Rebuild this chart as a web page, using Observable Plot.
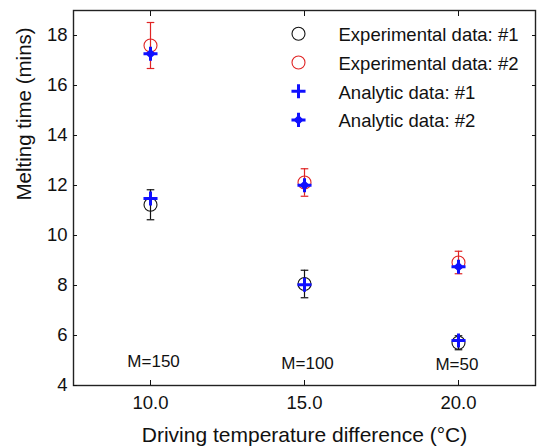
<!DOCTYPE html>
<html>
<head>
<meta charset="utf-8">
<script src="https://cdn.jsdelivr.net/npm/d3@7"></script>
<script src="https://cdn.jsdelivr.net/npm/@observablehq/plot@0.6"></script>
<style>
  body { margin: 0; background: #fff; }
  svg { font-family: "Liberation Sans", Arial, Helvetica, sans-serif; }
</style>
</head>
<body>
<div id="chart"></div>
<script>
// ---- data ----
const temps = [10, 15, 20];
const exp1 = [11.23, 8.06, 5.71];
const exp1Err = [0.6, 0.55, 0.28];
const exp2 = [17.6, 12.12, 8.92];
const exp2Err = [0.92, 0.55, 0.45];
const ana1 = [11.48, 8.03, 5.8];
const ana2 = [17.27, 12.01, 8.75];
const massLabels = ["M=150", "M=100", "M=50"];
const massX = [10.1, 15.1, 19.95];
const massY = [4.97, 4.89, 4.84];
const xTicks = [10, 15, 20];
const yTicks = [4, 6, 8, 10, 12, 14, 16, 18];
const legendLabels = ["Experimental data: #1", "Experimental data: #2", "Analytic data: #1", "Analytic data: #2"];

// ---- styles ----
const RED = "#e02424";
const BLUE = "#1010ff";
const PLUS_R = 4.6;
const capSymbol = { draw(ctx, size) { const r = Math.sqrt(size / Math.PI); ctx.moveTo(-r, 0); ctx.lineTo(r, 0); } };

const rows = temps.map((t, i) => ({
  t, e1: exp1[i], e1err: exp1Err[i], e2: exp2[i], e2err: exp2Err[i], a1: ana1[i], a2: ana2[i]
}));
const ann = massLabels.map((m, i) => ({ m, x: massX[i], y: massY[i] }));

function errMarks(key, errKey, color) {
  return [
    Plot.ruleX(rows, { x: "t", y1: d => d[key] - d[errKey], y2: d => d[key] + d[errKey], stroke: color, strokeWidth: 1.2 }),
    Plot.dot(rows, { x: "t", y: d => d[key] - d[errKey], symbol: capSymbol, r: 3.8, stroke: color, strokeWidth: 1.2 }),
    Plot.dot(rows, { x: "t", y: d => d[key] + d[errKey], symbol: capSymbol, r: 3.8, stroke: color, strokeWidth: 1.2 })
  ];
}

const legendStyles = [
  [{ symbol: "circle", r: 6.5, stroke: "#111", strokeWidth: 1.1, fill: "none" }],
  [{ symbol: "circle", r: 6.5, stroke: RED, strokeWidth: 1.1, fill: "none" }],
  [{ symbol: "plus", r: PLUS_R, stroke: BLUE, strokeWidth: 3 }],
  [{ symbol: "plus", r: PLUS_R, stroke: BLUE, strokeWidth: 3 }, { symbol: "diamond2", r: 3.6, fill: BLUE, stroke: BLUE }]
];

const legendMarks = legendLabels.flatMap((label, i) => {
  const dy = 23.3 + i * 28.7;
  return [
    ...legendStyles[i].map(s => Plot.dot([0], { frameAnchor: "top-left", dx: 225, dy, ...s })),
    Plot.text([label], { frameAnchor: "top-left", dx: 265, dy: dy + 1.5, text: d => d, textAnchor: "start", lineAnchor: "middle", fontSize: 18.5, fill: "#111" })
  ];
});

const chart = Plot.plot({
  width: 538,
  height: 447,
  marginLeft: 73,
  marginRight: 3,
  marginTop: 10,
  marginBottom: 62,
  style: { background: "#fff", color: "#111", fontSize: "18.5px", fontFamily: "'Liberation Sans', Arial, Helvetica, sans-serif" },
  x: { domain: [7.5, 22.5], label: null },
  y: { domain: [4, 19], label: null },
  marks: [
    Plot.frame({ stroke: "#222", strokeWidth: 1.4 }),
    Plot.axisX({ anchor: "bottom", ticks: xTicks, tickSize: -5, tickPadding: 15, tickFormat: d => d.toFixed(1), label: null }),
    Plot.axisX({ anchor: "top", ticks: xTicks, tickSize: -5, tickFormat: () => "", label: null }),
    Plot.axisY({ anchor: "left", ticks: yTicks, tickSize: -4, tickPadding: 10, tickFormat: d => String(d), label: null }),
    Plot.axisY({ anchor: "right", ticks: yTicks, tickSize: -4, tickFormat: () => "", label: null }),
    Plot.text(["Driving temperature difference (°C)"], { frameAnchor: "bottom", dy: 50, text: d => d, fontSize: 21, lineAnchor: "middle", fill: "#111" }),
    Plot.text(["Melting time (mins)"], { frameAnchor: "left", dx: -49, dy: 2.5, rotate: -90, text: d => d, fontSize: 20.5, lineAnchor: "middle", fill: "#111" }),
    Plot.text(ann, { x: "x", y: "y", text: "m", fontSize: 17, fill: "#111" }),
    ...errMarks("e1", "e1err", "#111"),
    ...errMarks("e2", "e2err", RED),
    Plot.dot(rows, { x: "t", y: "e1", r: 6.5, stroke: "#111", strokeWidth: 1.1, fill: "none" }),
    Plot.dot(rows, { x: "t", y: "e2", r: 6.5, stroke: RED, strokeWidth: 1.1, fill: "none" }),
    Plot.dot(rows, { x: "t", y: "a1", symbol: "plus", r: PLUS_R, stroke: BLUE, strokeWidth: 3 }),
    Plot.dot(rows, { x: "t", y: "a2", symbol: "plus", r: PLUS_R, stroke: BLUE, strokeWidth: 3 }),
    Plot.dot(rows, { x: "t", y: "a2", symbol: "diamond2", r: 3.6, fill: BLUE, stroke: BLUE }),
    ...legendMarks
  ]
});
document.getElementById("chart").appendChild(chart);
</script>
</body>
</html>
